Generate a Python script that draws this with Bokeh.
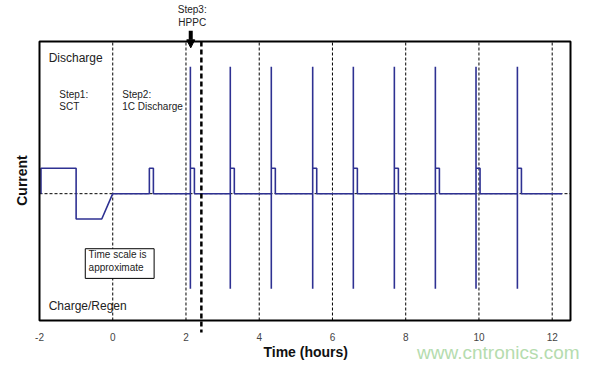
from bokeh.plotting import figure
from bokeh.models import FixedTicker, Arrow, NormalHead, Label, BoxAnnotation, Range1d, ColumnDataSource
from bokeh.core.properties import value
from bokeh.embed import file_html
from bokeh.resources import INLINE

# ---- data (time in hours, current in relative units) ----
# Step 1: SCT
sct_time = [-1.96, -1.96, -1.0, -1.0, -0.3, 0.0]
sct_current = [0, 1, 1, -1, -1, 0]

# Step 2: 1C discharge pulse
discharge_start = 1.0
discharge_end = 1.11
discharge_level = 1

# Step 3: HPPC pulse times
hppc_times = [2.12, 3.21, 4.33, 5.46, 6.57, 7.69, 8.81, 9.92, 11.05]
hppc_discharge_peak = 5
hppc_regen_peak = -3.75
hppc_dod_level = 1
hppc_dod_duration = 0.11
trace_end = 12.27

x_ticks = [-2, 0, 2, 4, 6, 8, 10, 12]
x_tick_labels = ["-2", "0", "2", "4", "6", "8", "10", "12"]
hppc_marker_time = 2.42

# chart box (axes limits of the original chart)
box_left, box_right = -2, 12.5
box_bottom, box_top = -5, 6

# ---- build trace from the values above ----
t = list(sct_time)
c = list(sct_current)
t += [discharge_start, discharge_start, discharge_end, discharge_end]
c += [0, discharge_level, discharge_level, 0]
for h in hppc_times:
    t += [h, h, h, h, h + hppc_dod_duration, h + hppc_dod_duration]
    c += [0, hppc_discharge_peak, hppc_regen_peak, hppc_dod_level, hppc_dod_level, 0]
t.append(trace_end)
c.append(0)

FONT = "Liberation Sans"

# pixel layout: box spans x 39..570, y 41..320 in the 600x367 picture
PX_X = (570 - 39) / (box_right - box_left)
PX_Y = (320 - 41) / (box_top - box_bottom)
W, H = 600, 367
LEFT, BOTTOM_PAD = 30, 7
x_range = Range1d(box_left - (39 - LEFT) / PX_X, box_left + (W - 39) / PX_X)
y_range = Range1d(box_bottom - (H - BOTTOM_PAD - 320) / PX_Y, box_top + 41 / PX_Y)

p = figure(width=W, height=H, x_range=x_range, y_range=y_range,
           output_backend="svg", toolbar_location=None, x_axis_location=None,
           min_border_left=LEFT, min_border_right=0, min_border_top=0, min_border_bottom=BOTTOM_PAD)
p.outline_line_color = None
p.background_fill_color = "white"
p.border_fill_color = "white"
p.xgrid.visible = False
p.ygrid.visible = False

ya = p.yaxis[0]
ya.ticker = FixedTicker(ticks=[])
ya.axis_line_color = None
ya.major_tick_line_color = None
ya.minor_tick_line_color = None
ya.major_label_text_font_size = "0px"
ya.axis_label = "Current"
ya.axis_label_text_font = FONT
ya.axis_label_text_font_style = "bold"
ya.axis_label_text_font_size = "14px"
ya.axis_label_text_color = "#111111"
ya.axis_label_standoff = 1

# vertical dashed grid lines at the ticks (inside the box)
grid_src = ColumnDataSource(dict(x=x_ticks[1:], y0=[box_bottom] * (len(x_ticks) - 1),
                                 y1=[box_top] * (len(x_ticks) - 1)))
p.segment(x0="x", y0="y0", x1="x", y1="y1", source=grid_src,
          line_color="black", line_dash="3 2", line_width=1)

# zero reference line
p.segment(x0=[box_left], y0=[0], x1=[box_right], y1=[0],
          line_color="black", line_dash="3 2", line_width=1)

# current trace
p.line(t, c, line_color="#2e3192", line_width=1.6)

# HPPC start marker (thick dashed, runs past the box bottom)
p.segment(x0=[hppc_marker_time], y0=[box_top], x1=[hppc_marker_time], y1=[box_bottom - 0.47],
          line_color="black", line_width=2.5, line_dash="5 3")

# tick labels
p.text(x=x_ticks, y=[box_bottom - 0.67] * len(x_ticks), text=x_tick_labels,
       text_font=value(FONT), text_font_size="10px", text_color="#444444",
       text_align="center", text_baseline="middle")

# chart box
box = BoxAnnotation(left=box_left, right=box_right, top=box_top, bottom=box_bottom,
                    fill_alpha=0, line_color="black", line_width=2, line_alpha=1)
p.add_layout(box)

down = Arrow(end=NormalHead(size=8, fill_color="black", line_color="black"),
             x_start=2.13, y_start=6.42, x_end=2.13, y_end=5.75,
             line_color="black", line_width=4)
p.add_layout(down)

note = BoxAnnotation(left=-0.75, right=1.13, top=-2.17, bottom=-3.34,
                     fill_color="white", fill_alpha=1, line_color="black", line_width=1,
                     line_alpha=1)
p.add_layout(note)


def lab(x, y, text, size="10px", align="left", color="#222222", style="normal"):
    p.add_layout(Label(x=x, y=y, text=text, text_font=FONT, text_font_size=size,
                       text_font_style=style, text_align=align, text_baseline="middle",
                       text_color=color))


lab(-1.75, 5.33, "Discharge", "12px")
lab(-1.46, 3.91, "Step1:")
lab(-1.46, 3.44, "SCT")
lab(0.26, 3.91, "Step2:")
lab(0.26, 3.44, "1C Discharge")
lab(2.17, 7.26, "Step3:", align="center")
lab(2.17, 6.75, "HPPC", align="center")
lab(-1.75, -4.41, "Charge/Regen", "12px")
lab(-0.66, -2.40, "Time scale is")
lab(-0.66, -2.91, "approximate")
lab(5.27, -6.26, "Time (hours)", "14px", align="center", color="#111111", style="bold")
lab(10.53, -6.26, "www.cntronics.com", "19px", align="center", color="#b5dcae")

open("out.html", "w").write(file_html(p, INLINE))
